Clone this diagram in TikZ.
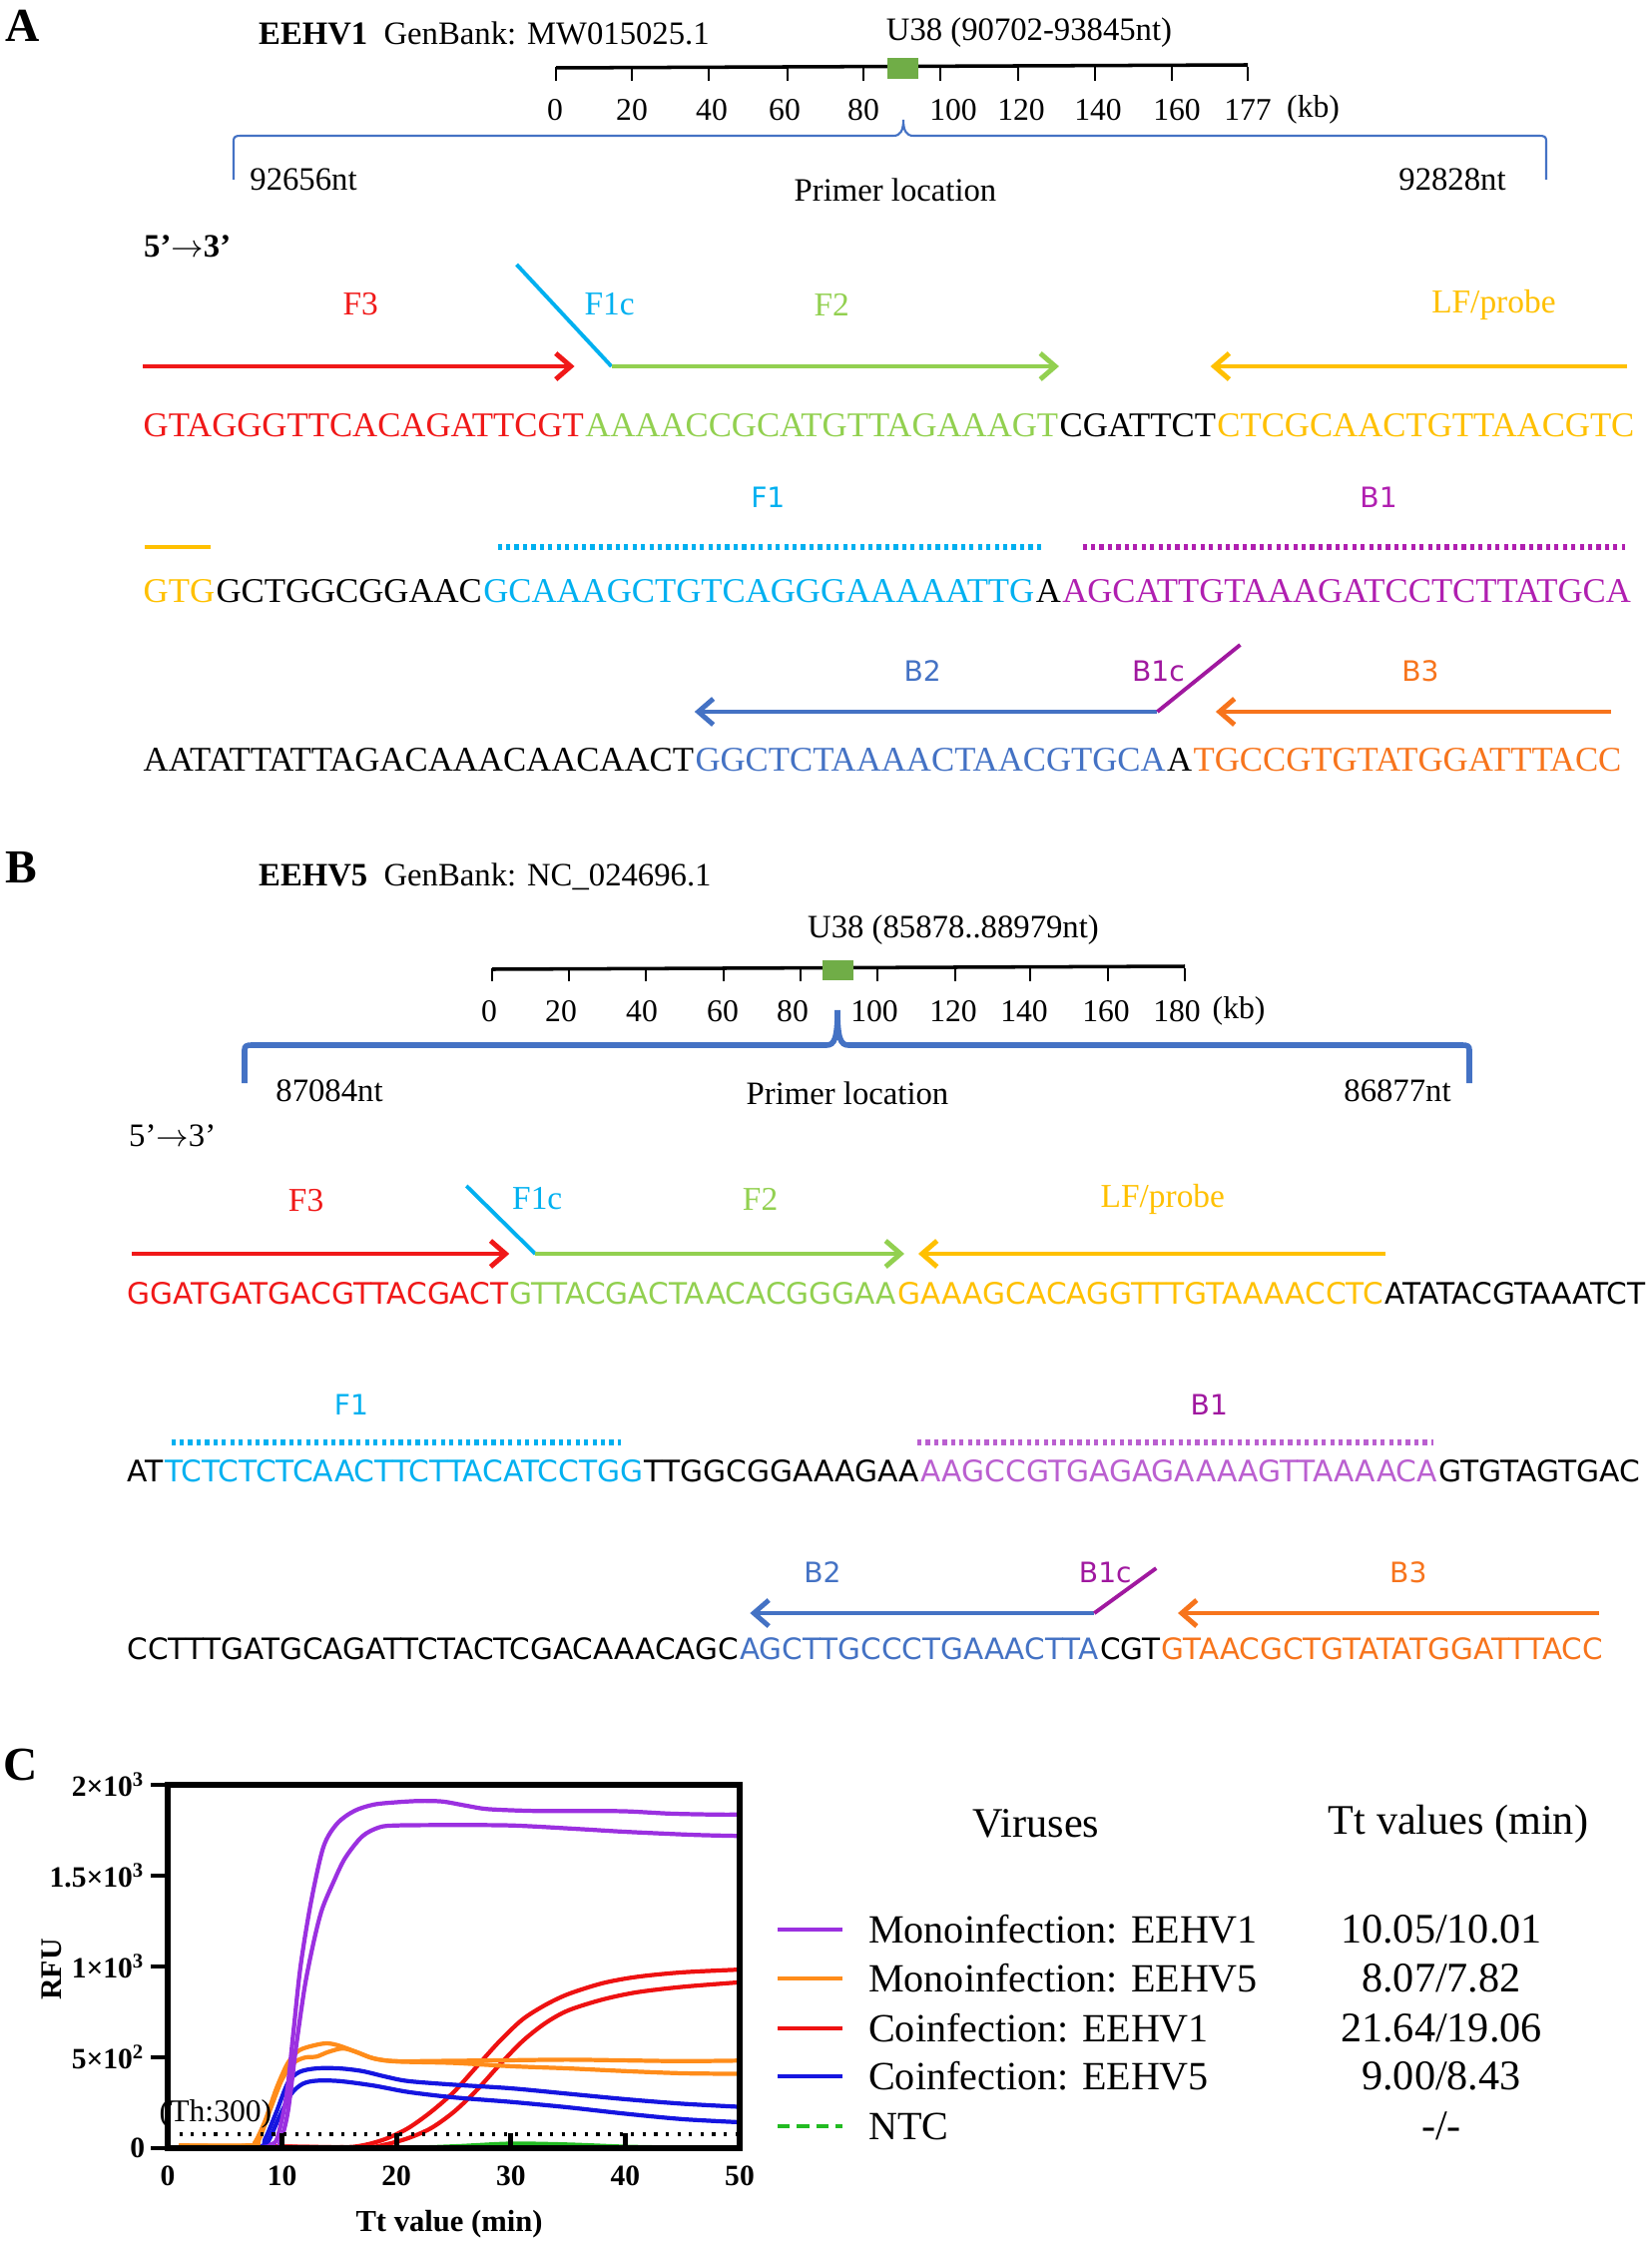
\documentclass[tikz,border=0pt]{standalone}
\usepackage{fontspec}
\setmainfont{Liberation Serif}
\newfontfamily\seqsans{DejaVu Sans}
\usetikzlibrary{positioning,arrows.meta,calc}
\definecolor{cRed}{HTML}{F01818}
\definecolor{cGreen}{HTML}{92D050}
\definecolor{cCyan}{HTML}{00B0F0}
\definecolor{cGold}{HTML}{FFC000}
\definecolor{cBlue}{HTML}{4472C4}
\definecolor{cOrange}{HTML}{F7741C}
\definecolor{cPurple}{HTML}{B01FB0}
\definecolor{cLilac}{HTML}{BA5FD0}
\definecolor{cMag}{HTML}{A0189F}
\definecolor{cBox}{HTML}{70AD47}
\definecolor{pPl}{HTML}{9B30E0}
\definecolor{pOr}{HTML}{FF8C1A}
\definecolor{pRd}{HTML}{EE1111}
\definecolor{pBl}{HTML}{1515E0}
\definecolor{pGr}{HTML}{22BB22}

\begin{document}
\begin{tikzpicture}[x=0.01cm, y=-0.01cm,
seqA/.style={inner sep=0pt, text height=7pt, text depth=0pt, font=\fontsize{#1}{12}\selectfont},
seqA/.default=9.88,
seqB/.style={inner sep=0pt, text height=6pt, text depth=0pt, font=\seqsans\fontsize{#1}{10}\selectfont},
seqB/.default=8.43,
hdr/.style={font=\fontsize{9.3}{11}\selectfont, inner sep=1pt},
tck/.style={font=\fontsize{9}{11}\selectfont, inner sep=1pt},
panel/.style={font=\fontsize{13.5}{15}\selectfont\bfseries, inner sep=0pt},
lblA/.style={font=\fontsize{9.5}{11}\selectfont, inner sep=0pt},
lblB/.style={font=\seqsans\fontsize{8}{10}\selectfont, inner sep=0pt},
prm/.style={line width=1.4pt, -{Straight Barb[length=1.5mm, width=2.6mm]}},
bar/.style={line width=1.4pt},
dots/.style={line width=1.5pt, dash pattern=on 1.2pt off 1.2pt},
slant/.style={line width=1.1pt},
scalebar/.style={line width=1pt},
brace/.style={cBlue, line width=#1},
curve/.style={line width=1.2pt},
axlbl/.style={font=\fontsize{8.4}{10}\selectfont\bfseries, inner sep=1pt},
leg/.style={font=\fontsize{12}{14}\selectfont, inner sep=1pt},
legl/.style={font=\fontsize{11.4}{14}\selectfont, inner sep=1pt, anchor=west}
]
\useasboundingbox (0,0) rectangle (1654,2246);

% ---------------- panel A ----------------
\node[panel] (pA) at (23,26) {A};
\node[hdr, anchor=west] (gA) at (255,33) {\textbf{EEHV1}\enspace GenBank: MW015025.1};
\node[hdr] (uA) at (1031,33) {U38 (90702-93845nt)};
\draw[scalebar] (557,68) -- (1250,65);
\foreach \x in {557,633,710,789,865,942,1020,1097,1174,1250}
  \draw[line width=0.7pt] (\x,67) -- (\x,81);
\fill[cBox] (889,58) rectangle (920,79);
\foreach \x/\t in {556/0,633/20,713/40,786/60,865/80,955/100,1023/120,1100/140,1179/160,1250/177}
  \node[tck] (ta\t) at (\x,110) {\t};
\node[tck, right=2pt of ta177] (kbA) {(kb)};
\draw[brace=0.6pt] (234,180) -- (234,141) .. controls (234,137) and (236,136) .. (241,136)
  -- (895,136) .. controls (902,136) and (905,131) .. (905,120)
  .. controls (905,131) and (908,136) .. (915,136) -- (1542,136)
  .. controls (1547,136) and (1549,137) .. (1549,141) -- (1549,180);
\node[hdr] (n1A) at (304,180) {92656nt};
\node[hdr] (plA) at (897,190) {Primer location};
\node[hdr] (n2A) at (1455,180) {92828nt};
\node[hdr, anchor=west] (dirA) at (140,247) {\textbf{5’}$\rightarrow$\textbf{3’}};

% row A1
\node[seqA, text=cRed, anchor=west] (a1) at (143,425) {GTAGGGTTCACAGATTCGT};
\node[seqA, text=cGreen, right=0pt of a1] (a2) {AAAACCGCATGTTAGAAAGT};
\node[seqA, right=0pt of a2] (a3) {CGATTCT};
\node[seqA, text=cGold, right=0pt of a3] (a4) {CTCGCAACTGTTAACGTC};
\draw[prm, cRed] ($(a1.west)+(0,-58)$) -- ($(a1.east)+(-10,-58)$);
\draw[slant, cCyan] ($(a2.west)+(-68,-160)$) -- ($(a2.west)+(27,-58)$);
\draw[prm, cGreen] ($(a2.west)+(27,-58)$) -- ($(a2.east)+(0,-58)$);
\draw[prm, cGold] ($(a4.east)+(-8,-58)$) -- ($(a4.west)+(-6,-58)$);
\node[lblA, text=cRed] (F3a) at ($(a1.center)+(-3,-120)$) {F3};
\node[lblA, text=cCyan] (F1ca) at ($(a2.west)+(25,-120)$) {F1c};
\node[lblA, text=cGreen] (F2a) at ($(a2.center)+(10,-120)$) {F2};
\node[lblA, text=cGold] (LFa) at ($(a4.center)+(68,-120)$) {LF/probe};

% row A2
\node[seqA, text=cGold, anchor=west] (b1) at (143,591) {GTG};
\node[seqA, right=0pt of b1] (b2) {GCTGGCGGAAC};
\node[seqA, text=cCyan, right=0pt of b2] (b3) {GCAAAGCTGTCAGGGAAAAATTG};
\node[seqA, right=0pt of b3] (b4) {A};
\node[seqA, text=cPurple, right=0pt of b4] (b5) {AGCATTGTAAAGATCCTCTTATGCA};
\draw[bar, cGold] ($(b1.west)+(2,-43)$) -- ($(b1.east)+(-5,-43)$);
\draw[dots, cCyan] ($(b3.west)+(15,-43)$) -- ($(b3.east)+(6,-43)$);
\draw[dots, cPurple] ($(b5.west)+(21,-43)$) -- ($(b5.east)+(-7,-43)$);
\node[lblB, text=cCyan] (F1a) at ($(b3.center)+(9,-93)$) {F1};
\node[lblB, text=cPurple] (B1a) at ($(b5.center)+(32,-93)$) {B1};

% row A3
\node[seqA, anchor=west] (c1) at (143,760) {AATATTATTAGACAAACAACAACT};
\node[seqA, text=cBlue, right=0pt of c1] (c2) {GGCTCTAAAACTAACGTGCA};
\node[seqA, right=0pt of c2] (c3) {A};
\node[seqA, text=cOrange, right=0pt of c3] (c4) {TGCCGTGTATGGATTTACC};
\draw[prm, cBlue] ($(c2.east)+(-9,-47)$) -- ($(c2.west)+(0,-47)$);
\draw[slant, cMag] ($(c2.east)+(-9,-47)$) -- ($(c2.east)+(74,-114)$);
\draw[prm, cOrange] ($(c4.east)+(-11,-47)$) -- ($(c4.west)+(23,-47)$);
\node[lblB, text=cBlue] (B2a) at ($(c2.center)+(-8,-88)$) {B2};
\node[lblB, text=cMag] (B1ca) at ($(c2.east)+(-8,-88)$) {B1c};
\node[lblB, text=cOrange] (B3a) at ($(c4.center)+(13,-88)$) {B3};

% ---------------- panel B ----------------
\node[panel] (pB) at (21,869) {B};
\node[hdr, anchor=west] (gB) at (255,878) {\textbf{EEHV5}\enspace GenBank: NC\_024696.1};
\node[hdr] (uB) at (955,932) {U38 (85878..88979nt)};
\draw[scalebar] (493,971) -- (1187,968);
\foreach \x in {493,570,647,725,802,879,957,1032,1110,1187}
  \draw[line width=0.7pt] (\x,970) -- (\x,983);
\fill[cBox] (824,962) rectangle (855,982);
\foreach \x/\t in {490/0,562/20,643/40,724/60,794/80,876/100,955/120,1026/140,1108/160,1179/180}
  \node[tck] (tb\t) at (\x,1013) {\t};
\node[tck, right=1pt of tb180] (kbB) {(kb)};
\draw[brace=1.6pt] (245,1085) -- (245,1052) .. controls (245,1048) and (247,1047) .. (252,1047)
  -- (828,1047) .. controls (836,1047) and (839,1040) .. (839,1012)
  .. controls (839,1040) and (842,1047) .. (850,1047) -- (1465,1047)
  .. controls (1470,1047) and (1472,1048) .. (1472,1052) -- (1472,1085);
\node[hdr] (n1B) at (330,1093) {87084nt};
\node[hdr] (plB) at (849,1095) {Primer location};
\node[hdr] (n2B) at (1400,1093) {86877nt};
\node[hdr, anchor=west] (dirB) at (125,1138) {5’$\rightarrow$3’};

% row B1
\node[seqB, text=cRed, anchor=west] (d1) at (127,1296) {GGATGATGACGTTACGACT};
\node[seqB, text=cGreen, right=0pt of d1] (d2) {GTTACGACTAACACGGGAA};
\node[seqB, text=cGold, right=0pt of d2] (d3) {GAAAGCACAGGTTTGTAAAACCTC};
\node[seqB, right=0pt of d3] (d4) {ATATACGTAAATCT};
\draw[prm, cRed] ($(d1.west)+(5,-40)$) -- ($(d1.east)+(0,-40)$);
\draw[slant, cCyan] ($(d2.west)+(-43,-108)$) -- ($(d2.west)+(26,-40)$);
\draw[prm, cGreen] ($(d2.west)+(26,-40)$) -- ($(d2.east)+(7,-40)$);
\draw[prm, cGold] ($(d3.east)+(1,-40)$) -- ($(d3.west)+(21,-40)$);
\node[lblA, text=cRed] (F3b) at ($(d1.center)+(-12,-93)$) {F3};
\node[lblA, text=cCyan] (F1cb) at ($(d2.west)+(28,-95)$) {F1c};
\node[lblA, text=cGreen] (F2b) at ($(d2.center)+(57,-95)$) {F2};
\node[lblA, text=cGold] (LFb) at ($(d3.center)+(22,-95)$) {LF/probe};

% row B2
\node[seqB=8.45, anchor=west] (e1) at (127,1474) {AT};
\node[seqB=8.45, text=cCyan, right=0pt of e1] (e2) {TCTCTCTCAACTTCTTACATCCTGG};
\node[seqB=8.45, right=0pt of e2] (e3) {TTGGCGGAAAGAA};
\node[seqB=8.45, text=cLilac, right=0pt of e3] (e4) {AAGCCGTGAGAGAAAAGTTAAAACA};
\node[seqB=8.45, right=0pt of e4] (e5) {GTGTAGTGAC};
\draw[dots, cCyan] ($(e2.west)+(7,-29)$) -- ($(e2.east)+(-23,-29)$);
\draw[dots, cLilac] ($(e4.west)+(-3,-29)$) -- ($(e4.east)+(-5,-29)$);
\node[lblB, text=cCyan] (F1b) at ($(e2.center)+(-53,-67)$) {F1};
\node[lblB, text=cMag] (B1b) at ($(e4.center)+(30,-67)$) {B1};

% row B3
\node[seqB=8.38, anchor=west] (f1) at (127,1652) {CCTTTGATGCAGATTCTACTCGACAAACAGC};
\node[seqB=8.38, text=cBlue, right=0pt of f1] (f2) {AGCTTGCCCTGAAACTTA};
\node[seqB=8.38, right=0pt of f2] (f3) {CGT};
\node[seqB=8.38, text=cOrange, right=0pt of f3] (f4) {GTAACGCTGTATATGGATTTACC};
\draw[prm, cBlue] ($(f2.east)+(-5,-36)$) -- ($(f2.west)+(11,-36)$);
\draw[slant, cMag] ($(f2.east)+(-5,-36)$) -- ($(f2.east)+(57,-81)$);
\draw[prm, cOrange] ($(f4.east)+(-5,-36)$) -- ($(f4.west)+(17,-36)$);
\node[lblB, text=cBlue] (B2b) at ($(f2.center)+(-97,-77)$) {B2};
\node[lblB, text=cMag] (B1cb) at ($(f2.east)+(6,-77)$) {B1c};
\node[lblB, text=cOrange] (B3b) at ($(f4.center)+(26,-77)$) {B3};

% ---------------- panel C ----------------
\node[panel] (pC) at (21,1768) {C};
\begin{scope}[shift={(168,2152)}, x=0.1146cm, y=0.00182cm]
\draw[curve, pGr] plot[smooth, tension=0.5] coordinates {(1,3) (20,3) (25,10) (30,25) (35,20) (40,8) (45,3) (50,3)};
\draw[curve, pRd] plot[smooth, tension=0.5] coordinates {(1,10) (8,10) (15,5) (17,15) (19,50) (21,110) (23,200) (25,310) (27,450) (29,590) (31,710) (33,790) (35,850) (38,910) (41,945) (45,970) (50,985)};
\draw[curve, pRd] plot[smooth, tension=0.5] coordinates {(1,10) (8,10) (17,5) (19,20) (21,55) (23,110) (25,200) (27,320) (29,460) (31,590) (33,690) (35,760) (38,820) (41,860) (45,890) (50,915)};
\draw[curve, pBl] plot[smooth, tension=0.5] coordinates {(1,8) (7.8,8) (8.5,50) (9.5,200) (10.5,360) (11.5,420) (13,440) (15,440) (17,425) (19,395) (21,370) (25,350) (30,330) (35,300) (40,270) (45,245) (50,228)};
\draw[curve, pBl] plot[smooth, tension=0.5] coordinates {(1,8) (8,8) (8.8,40) (9.8,180) (10.8,300) (11.8,355) (13,372) (15,370) (18,345) (21,310) (25,280) (30,255) (35,225) (40,190) (45,160) (50,143)};
\draw[curve, pOr] plot[smooth, tension=0.5] coordinates {(1,15) (7,15) (7.6,30) (8.5,150) (9.5,330) (10.5,470) (11.5,540) (13,570) (14,578) (15,565) (16.5,530) (18,495) (20,480) (25,482) (30,485) (35,488) (40,484) (45,480) (50,483)};
\draw[curve, pOr] plot[smooth, tension=0.5] coordinates {(1,15) (7.3,15) (8,50) (9,220) (10,380) (11,470) (12,500) (13,505) (14,530) (15.3,550) (16.5,530) (18,495) (20,478) (25,470) (30,452) (35,440) (40,425) (45,413) (50,410)};
\draw[curve, pPl] plot[smooth, tension=0.5] coordinates {(1,5) (8,5) (9,20) (9.6,60) (10.4,300) (11,650) (11.6,1000) (12.5,1350) (13.6,1660) (14.8,1790) (16.3,1860) (18,1895) (20,1908) (22,1915) (24,1912) (26,1890) (28,1870) (32,1860) (36,1860) (40,1858) (44,1845) (48,1840) (50,1840)};
\draw[curve, pPl] plot[smooth, tension=0.5] coordinates {(1,5) (9,5) (9.8,30) (10.5,200) (11.2,550) (12,900) (12.8,1150) (13.5,1320) (14.5,1470) (15.5,1600) (17,1720) (18.5,1770) (20,1780) (24,1782) (30,1780) (36,1760) (40,1745) (46,1728) (50,1722)};
\end{scope}
\draw[line width=1pt, dash pattern=on 0.9pt off 2.4pt] (168,2138) -- (741,2138);
\draw[line width=1.6pt] (168,1788) rectangle (741,2152);
\foreach \y/\t in {2152/{0},2061/{5×10\textsuperscript{2}},1970/{1×10\textsuperscript{3}},1879/{1.5×10\textsuperscript{3}},1788/{2×10\textsuperscript{3}}}
  \draw[line width=1.4pt] (151,\y) -- (168,\y) node[axlbl, pos=0, anchor=east, inner sep=1pt] {\t};
\foreach \x in {282.6,397.2,511.8,626.4}
  \draw[line width=1.4pt] (\x,2152) -- (\x,2137);
\foreach \x/\t in {168/0,282.6/10,397.2/20,511.8/30,626.4/40,741/50}
  \node[axlbl] (tx\t) at (\x,2180) {\t};
\node[axlbl, font=\fontsize{8.7}{10}\selectfont\bfseries] (xlab) at (450,2228) {Tt value (min)};
\node[axlbl, font=\fontsize{8.5}{10}\selectfont\bfseries, rotate=90] (ylab) at (52,1973) {RFU};
\node[font=\fontsize{9}{11}\selectfont, inner sep=0pt] (th) at (216,2118) {(Th:300)};

% legend
\node[leg] (hv) at (1038,1827) {Viruses};
\node[leg] (ht) at (1461,1827) {Tt values (min)};
\draw[pPl, line width=1.4pt] (779,1933) -- (844,1933);
\draw[pOr, line width=1.4pt] (779,1982) -- (844,1982);
\draw[pRd, line width=1.4pt] (779,2032) -- (844,2032);
\draw[pBl, line width=1.4pt] (779,2080) -- (844,2080);
\draw[pGr, line width=1.4pt, dash pattern=on 3.5pt off 2pt] (779,2130) -- (844,2130);
\node[legl] (l1) at (866,1933) {Monoinfection: EEHV1};
\node[legl] (l2) at (866,1982) {Monoinfection: EEHV5};
\node[legl] (l3) at (866,2032) {Coinfection: EEHV1};
\node[legl] (l4) at (866,2080) {Coinfection: EEHV5};
\node[legl] (l5) at (866,2130) {NTC};
\node[leg] (v1) at (1444,1933) {10.05/10.01};
\node[leg] (v2) at (1444,1982) {8.07/7.82};
\node[leg] (v3) at (1444,2032) {21.64/19.06};
\node[leg] (v4) at (1444,2080) {9.00/8.43};
\node[leg] (v5) at (1444,2130) {-/-};
\end{tikzpicture}
\end{document}
